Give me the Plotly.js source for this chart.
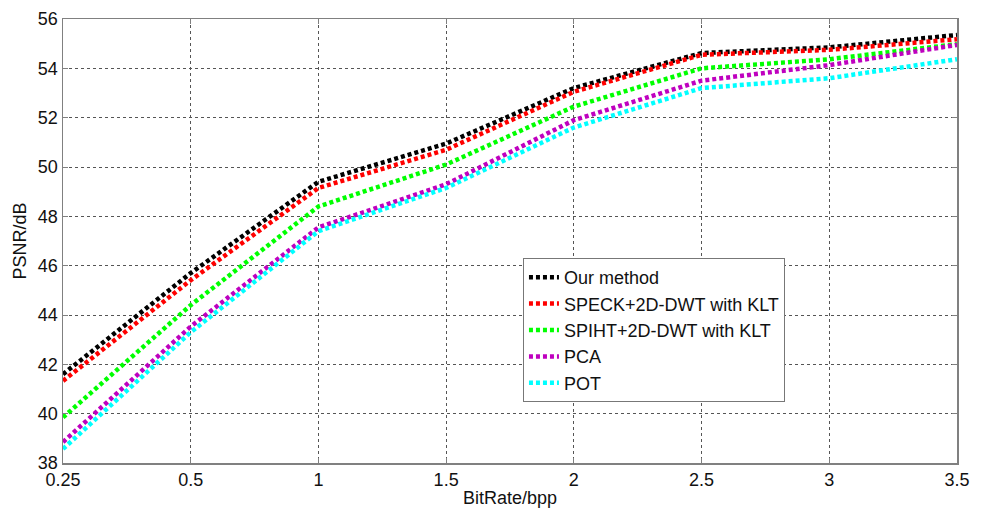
<!DOCTYPE html>
<html>
<head>
<meta charset="utf-8">
<script src="https://cdn.plot.ly/plotly-3.0.1.min.js"></script>
<style>html,body{margin:0;padding:0;background:#fff;} #chart{width:986px;height:510px;}</style>
</head>
<body>
<div id="chart"></div>
<script>
const bitRates = ["0.25", "0.5", "1", "1.5", "2", "2.5", "3", "3.5"];
const seriesNames = ["Our method", "SPECK+2D-DWT with KLT", "SPIHT+2D-DWT with KLT", "PCA", "POT"];
const ourMethod = [41.6, 45.7, 49.4, 50.95, 53.2, 54.62, 54.85, 55.35];
const speck = [41.33, 45.41, 49.15, 50.7, 53.05, 54.55, 54.75, 55.18];
const spiht = [39.85, 44.4, 48.4, 50.1, 52.45, 54.0, 54.37, 54.98];
const pca = [38.85, 43.53, 47.55, 49.3, 51.9, 53.5, 54.13, 54.95];
const pot = [38.57, 43.3, 47.4, 49.15, 51.6, 53.2, 53.6, 54.37];
const colors = ["#000000", "#ff0000", "#00ff00", "#bf00bf", "#00ffff"];

const values = [ourMethod, speck, spiht, pca, pot];
const traces = values.map((v, i) => ({
  x: bitRates,
  y: v,
  name: seriesNames[i],
  type: "scatter",
  mode: "lines",
  line: {color: colors[i], width: 4.5, dash: "4px,3px"}
}));

const axisCommon = {
  showline: true, mirror: "allticks", linecolor: "#808080", linewidth: 1.5,
  ticks: "inside", ticklen: 5, tickcolor: "#808080",
  showgrid: true, gridcolor: "#555555", griddash: "dot", gridwidth: 1,
  zeroline: false,
  tickfont: {family: "Liberation Sans, Arial, sans-serif", size: 18, color: "#111"}
};

const layout = {
  width: 986, height: 510,
  margin: {l: 63, r: 29, t: 19, b: 47},
  paper_bgcolor: "#ffffff", plot_bgcolor: "#ffffff",
  showlegend: true,
  legend: {
    x: 0.5145, y: 0.4617, xanchor: "left", yanchor: "top",
    bgcolor: "#ffffff", bordercolor: "#777777", borderwidth: 1,
    font: {family: "Liberation Sans, Arial, sans-serif", size: 18, color: "#111"},
    tracegroupgap: 0, itemwidth: 30
  },
  xaxis: Object.assign({}, axisCommon, {
    type: "category", range: [0, 7],
    title: {text: "BitRate/bpp", standoff: 2, font: {family: "Liberation Sans, Arial, sans-serif", size: 18, color: "#111"}}
  }),
  yaxis: Object.assign({}, axisCommon, {
    range: [38, 56], dtick: 2, tick0: 38,
    title: {text: "PSNR/dB", standoff: 6, font: {family: "Liberation Sans, Arial, sans-serif", size: 18, color: "#111"}}
  })
};

Plotly.newPlot("chart", traces, layout, {displayModeBar: false, staticPlot: true});
</script>
</body>
</html>
